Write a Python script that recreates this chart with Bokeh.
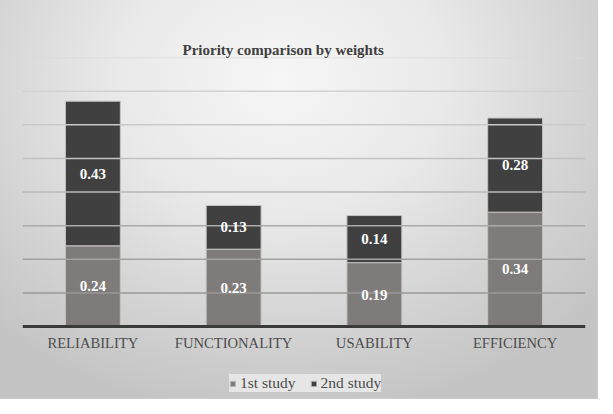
from bokeh.plotting import figure
from bokeh.models import (ColumnDataSource, FactorRange, Range1d, Legend, LegendItem,
                          Span, LabelSet)
from bokeh.embed import file_html
from bokeh.resources import INLINE

# ---- data ----
categories = ["RELIABILITY", "FUNCTIONALITY", "USABILITY", "EFFICIENCY"]
series_names = ["1st study", "2nd study"]
first_study = [0.24, 0.23, 0.19, 0.34]
second_study = [0.43, 0.13, 0.14, 0.28]
grid_ticks = [0.1, 0.2, 0.3, 0.4, 0.5, 0.6, 0.7, 0.8]
title_text = "Priority comparison by weights"

# ---- styles ----
bar_colors = ["#7f7b7b", "#404040"]
grid_colors = ["#999999", "#a1a1a1", "#a9a9a9", "#b9b9b9", "#c1c1c1", "#c9c9c9", "#d1d1d1", "#d9d9d9"]
SERIF = "Liberation Serif"

src = ColumnDataSource(dict(
    cat=categories,
    s1=first_study,
    s2=second_study,
))

p = figure(x_range=FactorRange(*categories), y_range=Range1d(-0.214, 0.8),
           width=597, height=398, output_backend="svg", toolbar_location=None,
           min_border_left=22, min_border_right=12, min_border_top=57,
           min_border_bottom=0)

p.border_fill_color = None
p.background_fill_color = None
p.outline_line_color = None
p.styles = {
    "background": "radial-gradient(ellipse 70% 85% at 47% 20%, #f6f6f6 0%, #e9e9e9 40%, #d4d4d4 72%, #c4c4c4 100%)",
    "outline": "1px solid #cccccc",
}

# grid lines
p.xgrid.grid_line_color = None
p.ygrid.grid_line_color = None
for t, c in zip(grid_ticks, grid_colors):
    p.add_layout(Span(location=t, dimension="width", line_color=c, line_width=1.5))

renderers = p.vbar_stack(["s1", "s2"], x="cat", width=0.39, source=src,
                         color=bar_colors, line_color="#c4c4c4", line_width=1)

# baseline
p.add_layout(Span(location=0, dimension="width", line_color="#3a3a3a", line_width=3))

# data labels
mid1 = [a / 2 for a in first_study]
mid2 = [a + b / 2 for a, b in zip(first_study, second_study)]
lab_src = ColumnDataSource(dict(
    x=categories * 2,
    y=mid1 + mid2,
    t=["%.2f" % v for v in first_study] + ["%.2f" % v for v in second_study],
))
p.add_layout(LabelSet(x="x", y="y", text="t", source=lab_src,
                      text_align="center", text_baseline="middle",
                      text_color="white", text_font=SERIF, text_font_style="bold",
                      text_font_size="15px"))

# axes
p.yaxis.visible = False
p.xaxis.fixed_location = 0
p.xaxis.axis_line_color = None
p.xaxis.major_tick_line_color = None
p.xaxis.minor_tick_line_color = None
p.xaxis.major_label_text_font = SERIF
p.xaxis.major_label_text_font_size = "14.6px"
p.xaxis.major_label_text_color = "#4d4d4d"
p.xaxis.major_label_standoff = 2

# title
p.title.text = title_text
p.title.text_font = SERIF
p.title.text_font_style = "bold"
p.title.text_font_size = "15px"
p.title.text_color = "#404040"
p.title.align = "left"
p.title.offset = 160
p.title.standoff = 0

# legend
legend = Legend(items=[LegendItem(label=series_names[0], renderers=[renderers[0]]),
                       LegendItem(label=series_names[1], renderers=[renderers[1]])],
                orientation="horizontal", location=(207, 6),
                label_text_font=SERIF, label_text_font_size="15.5px",
                label_text_color="#4d4d4d", glyph_width=7, glyph_height=7,
                label_standoff=4, spacing=14, padding=8, margin=0,
                background_fill_color="#e6e6e6", background_fill_alpha=1.0,
                border_line_color=None)
p.add_layout(legend, "center")

open("out.html", "w").write(file_html(p, INLINE))
